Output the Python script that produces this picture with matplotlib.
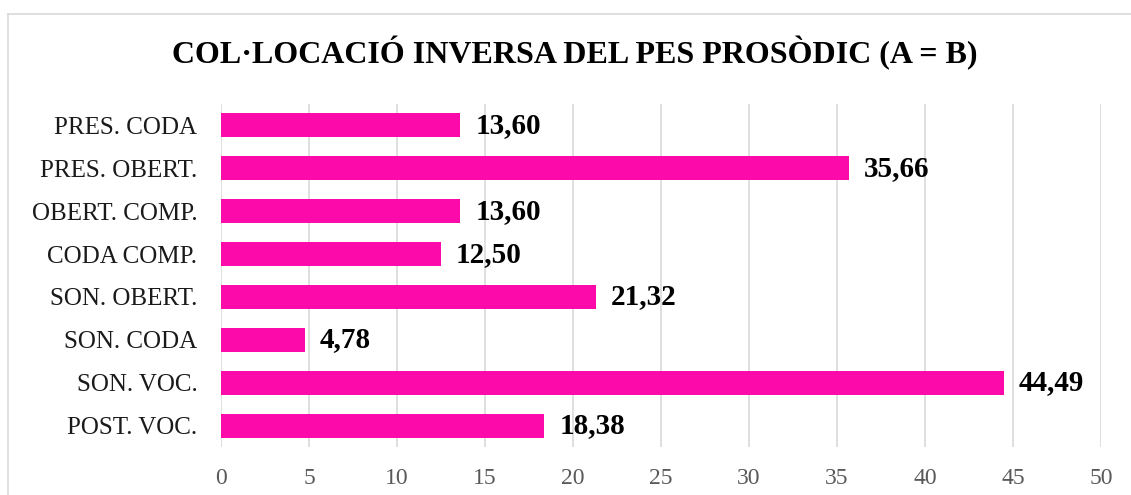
import matplotlib.pyplot as plt
from matplotlib.lines import Line2D

categories = ["PRES. CODA", "PRES. OBERT.", "OBERT. COMP.", "CODA COMP.",
              "SON. OBERT.", "SON. CODA", "SON. VOC.", "POST. VOC."]
values = [13.60, 35.66, 13.60, 12.50, 21.32, 4.78, 44.49, 18.38]
xticks = [0, 5, 10, 15, 20, 25, 30, 35, 40, 45, 50]

plt.rcParams['font.family'] = ['Liberation Serif', 'DejaVu Serif']

W, H = 1131, 495
fig = plt.figure(figsize=(W / 100, H / 100), dpi=100)
ax = fig.add_axes([221 / W, 1 - 447 / H, 880 / W, 343 / H])

y = list(range(len(categories)))
ax.barh(y, values, height=0.56, color='#FC0AAA', zorder=3)
for yi, v in zip(y, values):
    ax.text(v + 0.85, yi, f"{v:.2f}".replace('.', ','), va='center', ha='left',
            fontsize=21, fontweight='bold', color='black')

ax.set_ylim(len(categories) - 0.5, -0.5)
ax.set_xlim(0, 50)
ax.set_yticks(y)
ax.set_yticklabels(categories, fontsize=18, color='#1a1a1a')
ax.set_xticks(xticks)
ax.set_xticklabels([str(t) for t in xticks], fontsize=17, color='#595959')
ax.tick_params(length=0)
ax.tick_params(axis='y', pad=17)
ax.tick_params(axis='x', pad=15)
ax.grid(axis='x', color='#d9d9d9', linewidth=1.2, zorder=0)
for s in ax.spines.values():
    s.set_visible(False)

fig.text(575 / W, 1 - 53 / H, "COL·LOCACIÓ INVERSA DEL PES PROSÒDIC (A = B)",
         ha='center', va='center', fontsize=23, fontweight='bold')

# outer frame (only top and left edges visible in the crop)
fig.add_artist(Line2D([8 / W, 1], [1 - 14 / H, 1 - 14 / H], color='#d9d9d9', lw=1.2))
fig.add_artist(Line2D([8 / W, 8 / W], [0, 1 - 14 / H], color='#d9d9d9', lw=1.2))

fig.savefig('out.png', dpi=100)
